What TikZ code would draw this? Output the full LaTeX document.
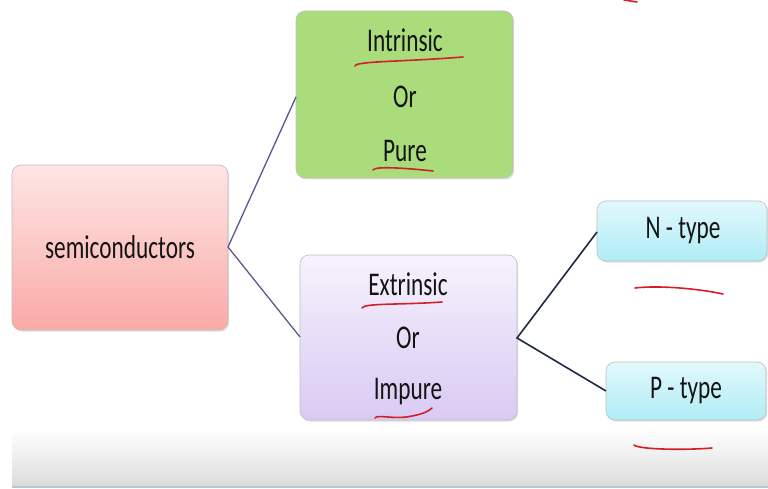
\documentclass[tikz,border=0pt]{standalone}
\usepackage{fontspec}
\setmainfont{Carlito}
\usetikzlibrary{shadows}
\newcommand{\tallt}[1]{\scalebox{0.97}[1.38]{#1}}
\begin{document}
\begin{tikzpicture}[x=1pt,y=-1pt,
  box/.style={rounded corners=9pt, draw=#1, line width=0.6pt, inner sep=0pt, drop shadow={shadow xshift=1.2pt, shadow yshift=-1.5pt, opacity=0.25}},
  conA/.style={draw=linkA, line width=1.3pt},
  conB/.style={draw=linkB, line width=1.6pt},
  ink/.style={draw=inkred, line width=1.6pt, line cap=round},
  lbl/.style={font=\fontsize{24}{24}\selectfont, text=black!92, inner sep=0pt}
]
\definecolor{linkA}{HTML}{5A5790}
\definecolor{linkB}{HTML}{1E2A44}
\definecolor{inkred}{HTML}{D0202A}
\useasboundingbox (0,0) rectangle (768,489);
\fill[white] (0,0) rectangle (768,489);
% bottom band
\shade[top color=white, bottom color=black!14] (12,430) rectangle (768,487);
\draw[color={rgb,255:red,168;green,205;blue,214}, line width=1.5pt] (12,487) -- (768,487);

% boxes
\path[box=black!25, top color={rgb,255:red,253;green,230;blue,228}, bottom color={rgb,255:red,250;green,170;blue,166}]
  (12,165) rectangle (228,330);
\node[lbl] (semi) at (120,247) {\tallt{semiconductors}};
\coordinate (semiR) at (228,247);

\path[box=black!25, fill={rgb,255:red,170;green,220;blue,124}] (296,11) rectangle (513,178);
\node[lbl] (intr) at (405,40) {\tallt{Intrinsic}};
\node[lbl] (or1) at (405,97) {\tallt{Or}};
\node[lbl] (pure) at (405,151) {\tallt{Pure}};
\coordinate (greenL) at (296,97);

\path[box=black!25, top color={rgb,255:red,246;green,242;blue,253}, bottom color={rgb,255:red,218;green,202;blue,243}] (300,255) rectangle (517,420);
\node[lbl] (extr) at (408,284) {\tallt{Extrinsic}};
\node[lbl] (or2) at (408,338) {\tallt{Or}};
\node[lbl] (impure) at (408,392) {\tallt{Impure}};
\coordinate (purpL) at (300,337);
\coordinate (purpR) at (517,338);

\path[box=black!25, top color={rgb,255:red,226;green,249;blue,252}, bottom color={rgb,255:red,176;green,236;blue,246}] (597,201) rectangle (767,261);
\node[lbl] (ntype) at (683,231) {\tallt{N - type}};
\coordinate (nL) at (597,232);

\path[box=black!25, top color={rgb,255:red,226;green,249;blue,252}, bottom color={rgb,255:red,176;green,236;blue,246}] (606,362) rectangle (766,420);
\node[lbl] (ptype) at (686,391) {\tallt{P - type}};
\coordinate (pL) at (606,391);

% connectors
\draw[conA] (greenL) -- (semiR) -- (purpL);
\draw[conB] (nL) -- (purpR) -- (pL);

% red ink underlines
\draw[ink] (355,66) .. controls (356,61) and (400,62) .. (463,57);
\draw[ink] (373,170) .. controls (375,166) and (405,168) .. (433,171);
\draw[ink] (362,308) .. controls (364,303) and (400,305) .. (442,302);
\draw[ink] (375,418) .. controls (377,414) and (395,420) .. (412,416) .. controls (422,414) and (428,412) .. (432,408);
\draw[ink] (635,288) .. controls (660,285) and (700,289) .. (723,294);
\draw[ink] (634,445) .. controls (640,450) and (690,450) .. (712,448);
\draw[ink] (624,0) -- (637,2);
\end{tikzpicture}
\end{document}
